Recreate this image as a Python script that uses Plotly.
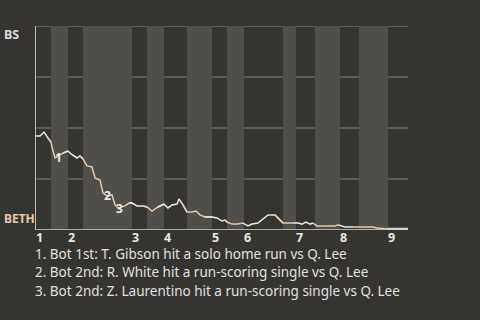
import plotly.graph_objects as go

# Game progress (plays axis units) and BS win probability (%)
prog = [0, 4, 8, 11, 15, 16, 19, 21, 27, 32, 35, 39, 41, 44, 47, 51, 56, 59, 64, 67, 71, 76,
        79, 82, 89, 93, 96, 101, 107, 111, 116, 122, 128, 132, 136, 141, 143, 147, 151, 156,
        160, 164, 169, 176, 181, 186, 189, 191, 196, 202, 207, 212, 216, 222, 232, 239, 247,
        257, 262, 266, 270, 274, 277, 281, 299, 302, 307, 309, 317, 324, 337, 341, 351, 372]
bs_wp = [46.1, 46.1, 48.0, 45.6, 43.1, 40.7, 35.3, 35.8, 37.7, 38.7, 37.3, 35.8, 35.3, 36.3,
         34.8, 31.4, 30.9, 25.5, 24.5, 18.1, 16.7, 17.2, 12.3, 10.8, 11.8, 13.2, 13.2, 11.8,
         11.8, 11.3, 9.3, 11.3, 12.7, 10.8, 12.3, 12.7, 15.2, 12.3, 8.8, 8.8, 9.3, 7.4, 6.4,
         6.4, 5.9, 4.4, 4.9, 3.9, 2.9, 2.9, 3.4, 2.0, 2.9, 3.4, 7.4, 7.4, 3.4, 3.4, 3.4, 2.9,
         3.9, 2.9, 3.4, 2.0, 2.0, 2.5, 2.0, 1.5, 1.5, 1.5, 1.5, 1.0, 0.5, 0.5]

# Half-inning boundaries (start of each half, final end)
half_bounds = [0, 15, 32, 47, 96, 111, 128, 151, 176, 191, 208, 247, 260, 279, 304, 323, 352, 372]
innings = ["1", "2", "3", "4", "5", "6", "7", "8", "9"]

# Key events
event_x = [22, 71, 83]
event_y = [35.3, 16.7, 10.6]
event_labels = ["1", "2", "3"]
event_notes = [
    "1. Bot 1st: T. Gibson hit a solo home run vs Q. Lee",
    "2. Bot 2nd: R. White hit a run-scoring single vs Q. Lee",
    "3. Bot 2nd: Z. Laurentino hit a run-scoring single vs Q. Lee",
]
team_top, team_bottom = "BS", "BETH"
grid_vals = [25, 50, 75, 100]

BG = "#363430"
BAND = "#4f4e4b"
WHITE = "#e8e8e8"
BEIGE = "#e6c8ac"
GRID = "#84827f"
FONT = "Noto Sans"

fig = go.Figure()
shapes = []
n_halves = len(half_bounds) - 1
for i in range(n_halves):
    s, e = half_bounds[i], half_bounds[i + 1]
    if i % 2 == 1:
        shapes.append(dict(type="rect", xref="x", yref="y", x0=s, x1=e, y0=0, y1=100,
                           fillcolor=BAND, line_width=0, layer="below"))
    xs, ys = [], []
    prev = [k for k in range(len(prog)) if prog[k] < s]
    if prev:
        xs.append(prog[prev[-1]]); ys.append(bs_wp[prev[-1]])
    for k in range(len(prog)):
        if s <= prog[k] <= e:
            xs.append(prog[k]); ys.append(bs_wp[k])
    if i == n_halves - 1:
        color, width = "#d0d0d0", 2.5
    else:
        color, width = (WHITE if i % 2 == 0 else BEIGE), 1.5
    fig.add_trace(go.Scatter(x=xs, y=ys, mode="lines", line=dict(color=color, width=width),
                             hoverinfo="skip", showlegend=False))

for g in grid_vals:
    shapes.append(dict(type="line", xref="paper", yref="y", x0=0, x1=1, y0=g, y1=g,
                       line=dict(color=GRID, width=1), layer="below"))
shapes.append(dict(type="line", xref="paper", yref="y", x0=0, x1=1, y0=0, y1=0,
                   line=dict(color="#cfcfcf", width=1.5)))

annotations = []
for j, lab in enumerate(innings):
    annotations.append(dict(x=half_bounds[2 * j], y=0, xref="x", yref="paper", text=f"<b>{lab}</b>",
                            showarrow=False, xanchor="left", yanchor="top", xshift=-1, yshift=2,
                            borderpad=0,
                            font=dict(family=FONT, size=12.5, color=WHITE)))
for ex, ey, el in zip(event_x, event_y, event_labels):
    annotations.append(dict(x=ex, y=ey, xref="x", yref="y", text=f"<b>{el}</b>", showarrow=False,
                            xanchor="center", yanchor="middle",
                            font=dict(family=FONT, size=12, color=WHITE)))
for j, note in enumerate(event_notes):
    annotations.append(dict(x=0, y=0, xref="paper", yref="paper", text=note, showarrow=False,
                            xanchor="left", yanchor="middle", xshift=-2, yshift=-23.5 - 18.5 * j,
                            borderpad=0,
                            font=dict(family=FONT, size=13.5, color="#e0e0e0")))
annotations.append(dict(x=0, y=1, xref="paper", yref="paper", text=f"<b>{team_top}</b>",
                        showarrow=False, xanchor="left", yanchor="top", xshift=-34, yshift=2,
                        font=dict(family=FONT, size=12.5, color="#dcdcdc")))
annotations.append(dict(x=0, y=0, xref="paper", yref="paper", text=f"<b>{team_bottom}</b>",
                        showarrow=False, xanchor="left", yanchor="bottom", xshift=-34, yshift=1,
                        font=dict(family=FONT, size=12, color=BEIGE)))

fig.update_layout(
    width=480, height=320,
    margin=dict(l=36, r=72, t=26, b=90),
    paper_bgcolor=BG, plot_bgcolor=BG,
    shapes=shapes, annotations=annotations,
    xaxis=dict(range=[0, 372], showgrid=False, zeroline=False, showticklabels=False,
               ticks="", fixedrange=True),
    yaxis=dict(range=[0, 100], showgrid=False, zeroline=False, showticklabels=False,
               showline=True, linecolor="#bdbdbd", linewidth=1, ticks=""),
)

fig.write_html("out.html")
